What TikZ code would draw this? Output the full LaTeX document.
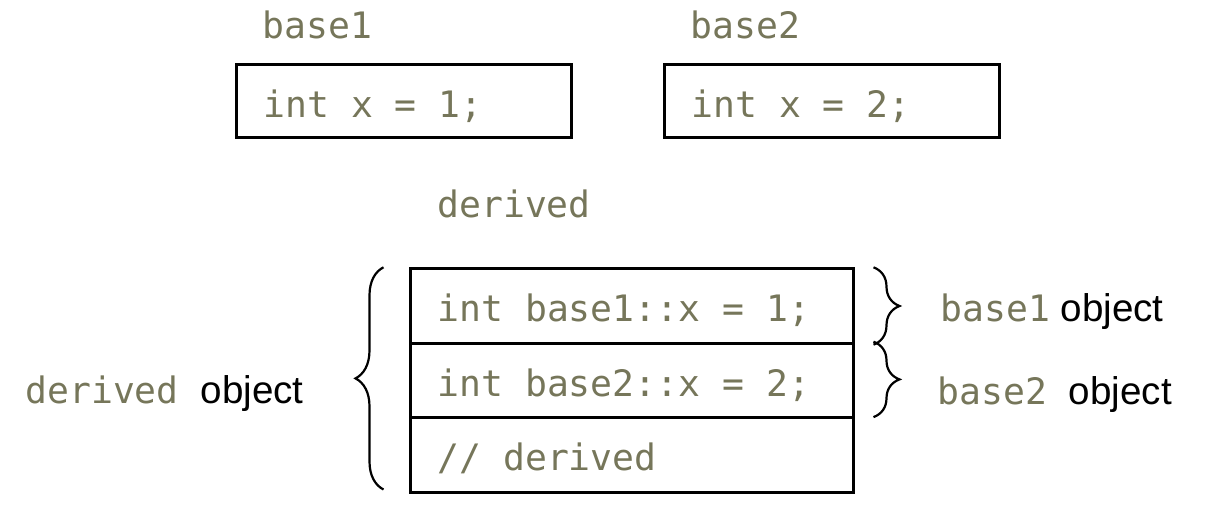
\documentclass[tikz,border=0pt]{standalone}
\usepackage{fontspec}
\setsansfont{Liberation Sans}
\setmonofont{DejaVu Sans Mono}
\usetikzlibrary{positioning,decorations.pathreplacing}
\definecolor{codegray}{RGB}{118,118,90}
\newcommand{\codetext}[1]{{\ttfamily\fontsize{18.2pt}{21pt}\selectfont\color{codegray}#1}}

\begin{document}
\begin{tikzpicture}[x=0.5pt,y=-0.5pt,
  cell/.style={draw=black,line width=1.5pt,inner xsep=13.75pt,text height=18pt,text depth=2pt,
    align=left,text=codegray,font=\ttfamily\fontsize{18.2pt}{21pt}\selectfont,
    execute at begin node={\spaceskip=0pt\xspaceskip=0pt}},
  small/.style={cell,text width=140pt,minimum height=36.5pt},
  wide/.style={cell,text width=194pt,minimum height=37.2pt},
  tag/.style={inner sep=0pt,anchor=base west,font=\sffamily\fontsize{19.3pt}{22pt}\selectfont},
  brace/.style={decorate,decoration={brace,amplitude=#1},line width=1.1pt}]
\useasboundingbox (0,0) rectangle (1227,513);

% the two base classes
\node[small] (b1)   at (403.5,101.5)   {int x = 1;};
\node[small] (b2)   at (831.5,101.5)   {int x = 2;};
\node[tag]   (lb1)  at (262,39)        {\codetext{base1}};
\node[tag]   (lb2)  at (690,39)        {\codetext{base2}};

% derived layout
\node[tag]   (ld)   at (437,218)       {\codetext{derived}};
\node[wide]  (row1) at (631.5,306)     {int base1::x = 1;};
\node[wide]  (row2) [below=-1.5pt of row1] {int base2::x = 2;};
\node[wide]  (row3) [below=-1.5pt of row2] {// derived};

\draw[brace=14pt] ([xshift=-12.5pt,yshift=2pt]row3.south west) -- ([xshift=-12.5pt]row1.north west);
\draw[brace=13pt] ([xshift=9.5pt]row1.north east) -- ([xshift=9.5pt]row1.south east);
\draw[brace=13pt] ([xshift=9.5pt]row2.north east) -- ([xshift=9.5pt,yshift=1pt]row2.south east);

\node[tag]   (ob1)  at (940,322)       {\codetext{base1} object};
\node[tag]   (ob2)  at (937,405)       {\codetext{base2\ }object};
\node[tag]   (od)   at (25,403)        {\codetext{derived\ }object};
\end{tikzpicture}
\end{document}
